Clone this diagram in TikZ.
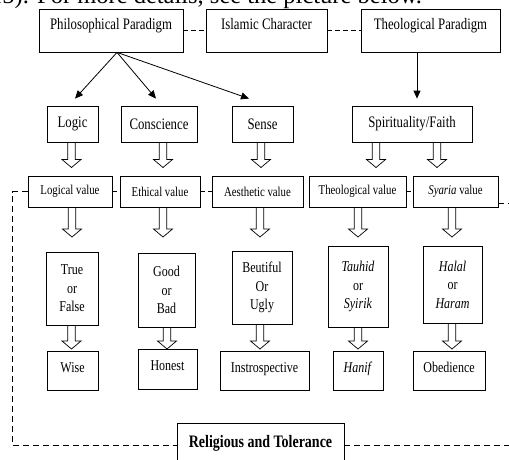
\documentclass[tikz,border=0pt]{standalone}
\usepackage{fontspec}
\setmainfont{Liberation Serif}[FakeStretch=0.8]
\newfontfamily\bodyfont{Liberation Serif}
\usetikzlibrary{arrows.meta,calc}
\newcommand\harrow[3]{%
  \path (#1,0) coordinate (hx);
  \coordinate (hs) at (#2.south -| hx);
  \coordinate (ht) at (#1,#3);
  \draw[hollow] ($(hs)+(-3.7,0)$) -- ($(hs)+(3.7,0)$) -- ($(ht)+(3.7,-8)$) -- ($(ht)+(9.5,-8)$) -- (ht) -- ($(ht)+(-9.5,-8)$) -- ($(ht)+(-3.7,-8)$) -- cycle;}
\begin{document}
\begin{tikzpicture}[x=1pt,y=-1pt,
  box/.style={draw, line width=0.8pt, inner sep=0pt, align=center, fill=white},
  fa/.style={font=\fontsize{16}{19}\selectfont},
  fb/.style={font=\fontsize{13.5}{16}\selectfont},
  fc/.style={font=\fontsize{15}{18.5}\selectfont},
  lowbox/.style={text height=10pt, text depth=7pt},
  arr/.style={line width=0.8pt, -{Triangle[length=8pt,width=7pt]}},
  hollow/.style={draw, fill=white, line width=0.7pt, line join=miter},
  dashA/.style={line width=0.8pt, dash pattern=on 5pt off 3pt},
  dashB/.style={line width=0.8pt, dash pattern=on 6pt off 4pt}]
\useasboundingbox (0,0) rectangle (509,459);
\clip (0,0) rectangle (509,459);

\node[anchor=base west, inner sep=0pt, font=\bodyfont\fontsize{24.5}{28}\selectfont] (intro) at (-10,3) {15). For more details, see the picture below.};

% row 1
\node[box, fa, minimum width=144pt, minimum height=43pt, text height=11pt, text depth=13pt] (pp) at (111,30.5) {Philosophical Paradigm};
\node[box, fa, minimum width=121pt, minimum height=43pt, text height=11pt, text depth=13pt] (ic) at (266.5,30.5) {Islamic Character};
\node[box, fa, minimum width=139pt, minimum height=43pt, text height=11pt, text depth=13pt] (tp) at (430.5,30.5) {Theological Paradigm};

% row 2
\node[box, fa, minimum width=51pt, minimum height=36pt] (logic) at (72.5,124) {Logic};
\node[box, fa, minimum width=76pt, minimum height=36pt] (consc) at (159,124) {Conscience};
\node[box, fa, minimum width=61pt, minimum height=36pt] (sense) at (262.5,124) {Sense};
\node[box, fa, minimum width=120pt, minimum height=36pt] (spir) at (412,124) {Spirituality/Faith};

% row 3
\node[box, fb, minimum width=84pt, minimum height=31pt] (logval) at (70,191.5) {Logical value};
\node[box, fb, minimum width=80pt, minimum height=31pt] (ethval) at (160,191.5) {Ethical value};
\node[box, fb, minimum width=91pt, minimum height=31pt] (aesval) at (257.5,191.5) {Aesthetic value};
\node[box, fb, minimum width=97pt, minimum height=31pt] (theoval) at (357.5,191.5) {Theological value};
\node[box, fb, minimum width=85pt, minimum height=31pt] (syaval) at (455.5,191.5) {\textit{Syaria} value};

% row 4
\node[box, fc, minimum width=52pt, minimum height=73pt] (tf) at (72,288.5) {True\\or\\False};
\node[box, fc, minimum width=57pt, minimum height=74pt] (gb) at (166.5,290) {Good\\or\\Bad};
\node[box, fc, minimum width=60pt, minimum height=73pt] (bu) at (262,287.5) {Beutiful\\Or\\Ugly};
\node[box, fc, minimum width=60pt, minimum height=81pt] (ts) at (358,286.5) {\textit{Tauhid}\\or\\\textit{Syirik}};
\node[box, fc, minimum width=59pt, minimum height=77pt] (hh) at (452.5,284.5) {\textit{Halal}\\or\\\textit{Haram}};

% row 5
\node[box, fc, lowbox, minimum width=51pt, minimum height=39pt] (wise) at (72.5,370.5) {Wise};
\node[box, fc, lowbox, minimum width=59pt, minimum height=40pt] (honest) at (167.5,369) {Honest};
\node[box, fc, lowbox, minimum width=89pt, minimum height=39pt] (instr) at (264.5,370.5) {Instrospective};
\node[box, fc, lowbox, minimum width=50pt, minimum height=39pt] (hanif) at (358,370.5) {\textit{Hanif}};
\node[box, fc, lowbox, minimum width=72pt, minimum height=39pt] (obed) at (449,370.5) {Obedience};

% bottom
\node[box, minimum width=167pt, minimum height=44pt, text height=12pt, text depth=8pt, font=\bfseries\fontsize{17.5}{20}\selectfont] (rel) at (260.5,445) {Religious and Tolerance};

% dashed links row 1
\draw[dashA] (pp.east) -- (ic.west);
\draw[dashA] (ic.east) -- (tp.west);
% dashed links row 3
\draw[dashA] (logval.east) -- (ethval.west);
\draw[dashA] (ethval.east) -- (aesval.west);
\draw[dashA] (theoval.east) -- (syaval.west);
% outer dashed frame
\coordinate (lc) at (12,0);
\coordinate (rc) at (520,0);
\draw[dashB] (logval.west) -- (logval.west -| lc) -- (rel.west -| lc) -- (rel.west);
\draw[dashB] (rel.east) -- (rel.east -| rc);
\coordinate (sy) at ($(syaval.east)+(0,11.5)$);
\draw[dashB] (sy) -- (sy -| rc);

% solid arrows
\coordinate (ps) at ($(pp.south)+(6,0)$);
\draw[arr] (ps) -- ($(logic.north)+(2.5,-7)$);
\draw[arr] (ps) -- ($(consc.north)+(-3,-7)$);
\draw[arr] (ps) -- ($(sense.north)+(-13.5,-7)$);
\coordinate (tpx) at ($(spir.north)+(5,-7)$);
\draw[arr] (tp.south -| tpx) -- (tpx);

% hollow arrows
\harrow{71.5}{logic}{167.5}
\harrow{163}{consc}{167.5}
\harrow{261}{sense}{167.5}
\harrow{376}{spir}{167.5}
\harrow{437}{spir}{167.5}

\harrow{72}{logval}{237}
\harrow{163}{ethval}{237}
\harrow{260}{aesval}{237}
\harrow{358}{theoval}{237}
\harrow{452}{syaval}{237}

\harrow{71.5}{tf}{349}
\harrow{167}{gb}{349}
\harrow{260}{bu}{349}
\harrow{358}{ts}{349}
\harrow{452}{hh}{349}
\end{tikzpicture}
\end{document}
